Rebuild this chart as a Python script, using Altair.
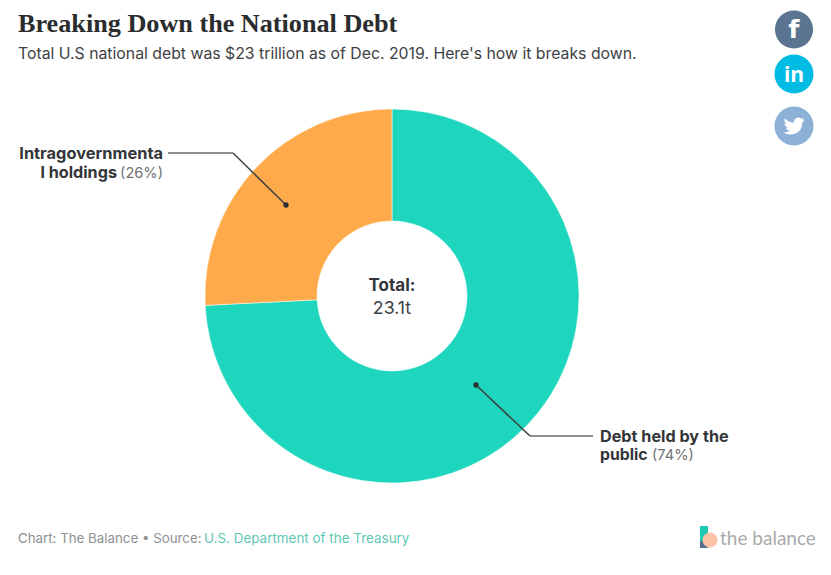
import altair as alt
import pandas as pd

categories = ["Debt held by the public", "Intragovernmental holdings"]
shares = [74.2, 25.8]
slice_colors = ["#1DD6BD", "#FFAA4A"]

title_text = "Breaking Down the National Debt"
subtitle_text = "Total U.S national debt was $23 trillion as of Dec. 2019. Here's how it breaks down."
total_label = "Total:"
total_value = "23.1t"
footer_text = "Chart: The Balance \u2022 Source:"
footer_link = "U.S. Department of the Treasury"
logo_text = "the balance"

BODY = "Inter"
one = pd.DataFrame({"k": [0]})


def px(v):
    return alt.value(v - 8)


def text(s, x, y, size, color, weight="normal", align="left", font=BODY, baseline="alphabetic"):
    return alt.Chart(one).mark_text(
        text=s, font=font, fontSize=size, color=color, fontWeight=weight, align=align, baseline=baseline
    ).encode(x=px(x), y=px(y))


def seg(x1, y1, x2, y2, color="#3c4043", width=1.3):
    return alt.Chart(one).mark_rule(color=color, strokeWidth=width).encode(
        x=px(x1), y=px(y1), x2=px(x2), y2=px(y2)
    )


def dot(x, y, r, color):
    return alt.Chart(one).mark_circle(size=3.1416 * r * r, color=color, opacity=1).encode(x=px(x), y=px(y))


def block(x1, y1, x2, y2, color):
    return alt.Chart(one).mark_rect(color=color).encode(x=px(x1), x2=px(x2), y=px(y1), y2=px(y2))


donut_df = pd.DataFrame({"category": categories, "share": shares, "order": [0, 1]})
donut = alt.Chart(donut_df).mark_arc(radius=187, innerRadius=75, stroke="#ffffff", strokeWidth=0.5).encode(
    theta=alt.Theta("share:Q", stack=True),
    order=alt.Order("order:Q"),
    color=alt.Color("category:N", scale=alt.Scale(domain=categories, range=slice_colors), legend=None),
    x=px(392),
    y=px(296),
)

bird = ("M.996,-.62 Q.88,-.56 .76,-.555 Q.89,-.63 .94,-.78 Q.82,-.71 .68,-.683 Q.55,-.82 .37,-.8 "
        "Q-.05,-.72 -.018,-.31 Q-.55,-.34 -.863,-.737 Q-1.0,-.4 -.737,-.188 Q-.84,-.19 -.92,-.24 "
        "Q-.9,.05 -.593,.168 Q-.68,.19 -.778,.174 Q-.67,.43 -.394,.459 Q-.65,.65 -1,.628 "
        "Q-.7,.82 -.37,.81 Q.76,.78 .797,-.353 Q.92,-.44 1,-.6 Z")

layers = [
    donut,
    text(title_text, 18, 31.5, 26.2, "#2a2c2e", "bold", font="Liberation Serif"),
    text(subtitle_text, 18, 59, 15.8, "#3e4144"),
    seg(168, 153, 233, 153, "#666a6d", 1.5),
    seg(233, 153, 286, 205, "#3c4043", 1.5),
    dot(286, 205, 3, "#2b2f33"),
    seg(476, 385, 530, 436, "#3c4043", 1.5),
    seg(530, 436, 593, 436, "#666a6d", 1.5),
    dot(476, 385, 3, "#2b2f33"),
    text("Intragovernmenta", 163, 159, 16.4, "#333538", "bold", "right"),
    text("l holdings", 117, 178, 16.2, "#333538", "bold", "right"),
    text("(26%)", 163, 178, 14.6, "#6f7274", "normal", "right"),
    text("Debt held by the", 600, 442, 16.2, "#333538", "bold"),
    text("public", 600, 460, 15.8, "#333538", "bold"),
    text("(74%)", 652, 460, 14.6, "#6f7274"),
    text(total_label, 392, 291, 17, "#333538", "bold", "center"),
    text(total_value, 392, 314, 17.8, "#3e4144", "normal", "center"),
    text(footer_text, 18, 543, 13.3, "#8d9091"),
    text(footer_link, 204, 543, 13.45, "#5FC7B6"),
    block(700, 526, 708, 541, "#1FC9B3"),
    block(700, 541, 708, 548, "#55708A"),
    dot(710, 540, 8.5, "#FBC4A6"),
    text(logo_text, 720, 545, 19, "#ababab", font="Lato"),
    dot(794, 29.5, 21.5, "#5B7490"),
    text("f", 794, 38, 25, "#ffffff", "bold", "center", font="DejaVu Sans"),
    dot(794, 74, 22, "#00BCE4"),
    text("in", 794, 82, 21, "#ffffff", "bold", "center", font="Open Sans"),
    dot(794, 126, 22, "#8DB0D6"),
    alt.Chart(one).mark_point(shape=bird, size=440, filled=True, color="#ffffff", opacity=1).encode(
        x=px(794), y=px(126)
    ),
]

chart = alt.layer(*layers).properties(
    width=815, height=559, padding=0, autosize=alt.AutoSizeParams(type="none")
).configure_view(stroke=None)

chart.save("out.html", embed_options={"renderer": "svg", "actions": False})
